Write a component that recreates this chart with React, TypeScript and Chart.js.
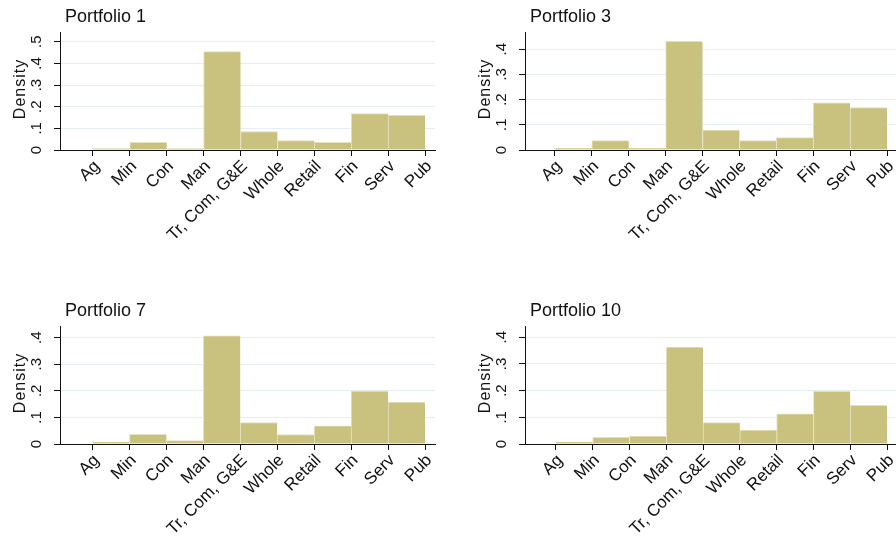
import React, { useEffect, useRef } from "react";
import { Chart, registerables } from "chart.js";

Chart.register(...registerables);

// ---- data ----
const categories = ["Ag", "Min", "Con", "Man", "Tr, Com, G&E", "Whole", "Retail", "Fin", "Serv", "Pub"];
const tickPositions = [1, 2, 3, 4, 5, 6, 7, 8, 9, 10];
const binCenters = [1.5, 2.5, 3.5, 4.5, 5.5, 6.5, 7.5, 8.5, 9.5];

const portfolio1 = [0.007, 0.035, 0.006, 0.454, 0.085, 0.043, 0.035, 0.168, 0.16];
const portfolio3 = [0.007, 0.037, 0.007, 0.431, 0.079, 0.037, 0.049, 0.187, 0.168];
const portfolio7 = [0.008, 0.036, 0.013, 0.407, 0.081, 0.035, 0.068, 0.199, 0.158];
const portfolio10 = [0.008, 0.025, 0.03, 0.363, 0.08, 0.052, 0.113, 0.197, 0.145];

const yTicksTo5 = [0, 0.1, 0.2, 0.3, 0.4, 0.5];
const yTicksTo4 = [0, 0.1, 0.2, 0.3, 0.4];
const yTickLabels = ["0", ".1", ".2", ".3", ".4", ".5"];

const BAR = "rgb(201,194,127)";
const BAR_EDGE = "rgb(228,225,190)";
const GRID = "#e4edf0";
const AXIS = "#111111";
const TEXT = "#111111";
const FONT = '"Liberation Sans", Arial, sans-serif';

type PanelCfg = {
  title: string;
  values: number[];
  yMax: number;
  yTicks: number[];
  xMin: number;
  left: number;
  top: number;
  rightPad: number;
};

const panels: PanelCfg[] = [
  { title: "Portfolio 1", values: portfolio1, yMax: 0.545, yTicks: yTicksTo5, xMin: 0.106, left: 0, top: 0, rightPad: 13 },
  { title: "Portfolio 3", values: portfolio3, yMax: 0.468, yTicks: yTicksTo4, xMin: 0.187, left: 465, top: 0, rightPad: 16 },
  { title: "Portfolio 7", values: portfolio7, yMax: 0.444, yTicks: yTicksTo4, xMin: 0.12, left: 0, top: 294, rightPad: 13 },
  { title: "Portfolio 10", values: portfolio10, yMax: 0.442, yTicks: yTicksTo4, xMin: 0.16, left: 465, top: 294, rightPad: 16 },
];

const CW = 448;
const CH = 248;

function textPlugin(cfg: PanelCfg) {
  return {
    id: "stataText",
    afterDraw(chart: any) {
      const ctx = chart.ctx as CanvasRenderingContext2D;
      const { left, top, bottom } = chart.chartArea;
      const xs = chart.scales.x;
      const ys = chart.scales.y;
      ctx.save();
      ctx.fillStyle = TEXT;

      // title
      ctx.font = `18px ${FONT}`;
      ctx.textAlign = "left";
      ctx.textBaseline = "alphabetic";
      ctx.fillText(cfg.title, left + 5, 21.5);

      // y tick labels (rotated)
      ctx.font = `15px ${FONT}`;
      cfg.yTicks.forEach((v, i) => {
        const y = ys.getPixelForValue(v);
        ctx.save();
        ctx.translate(left - 19, y);
        ctx.rotate(-Math.PI / 2);
        ctx.textAlign = "center";
        ctx.textBaseline = "alphabetic";
        ctx.fillText(yTickLabels[i], 0, 0);
        ctx.restore();
      });

      // y title
      ctx.save();
      ctx.font = `16px ${FONT}`;
      (ctx as any).letterSpacing = "1px";
      ctx.translate(left - 35, (top + bottom) / 2 - 2);
      ctx.rotate(-Math.PI / 2);
      ctx.textAlign = "center";
      ctx.textBaseline = "alphabetic";
      ctx.fillText("Density", 0, 0);
      ctx.restore();

      // x tick labels (45 degrees)
      ctx.font = `17px ${FONT}`;
      tickPositions.forEach((v, i) => {
        const x = xs.getPixelForValue(v);
        ctx.save();
        ctx.translate(x + 7.5, bottom + 17);
        ctx.rotate(-Math.PI / 4);
        ctx.textAlign = "right";
        ctx.textBaseline = "alphabetic";
        ctx.fillText(categories[i], 0, 0);
        ctx.restore();
      });
      ctx.restore();
    },
  };
}

function Panel({ cfg }: { cfg: PanelCfg }) {
  const ref = useRef<HTMLCanvasElement>(null);
  useEffect(() => {
    if (!ref.current) return;
    const chart = new Chart(ref.current, {
      type: "bar",
      data: {
        datasets: [
          {
            data: binCenters.map((x, i) => ({ x, y: cfg.values[i] })),
            backgroundColor: BAR,
            borderColor: BAR_EDGE,
            borderWidth: { top: 1, left: 1, right: 0, bottom: 0 },
            borderSkipped: false,
            barPercentage: 1,
            categoryPercentage: 1,
          } as any,
        ],
      },
      options: {
        animation: false,
        responsive: false,
        maintainAspectRatio: false,
        devicePixelRatio: 1,
        events: [],
        layout: { padding: { left: 50, right: cfg.rightPad, top: 32, bottom: 0 } },
        plugins: { legend: { display: false }, tooltip: { enabled: false }, title: { display: false } },
        scales: {
          x: {
            type: "linear",
            min: cfg.xMin,
            max: 10.27,
            offset: false,
            afterBuildTicks: (s: any) => {
              s.ticks = tickPositions.map((v) => ({ value: v }));
            },
            afterFit: (s: any) => {
              s.height = CH - 150;
              s.paddingLeft = 0;
              s.paddingRight = 0;
              s.paddingTop = 0;
              s.paddingBottom = 0;
            },
            ticks: { display: false },
            grid: {
              display: true,
              offset: false,
              drawOnChartArea: false,
              drawTicks: true,
              tickLength: 6,
              tickColor: AXIS,
              tickWidth: 1,
            },
            border: { display: true, color: AXIS, width: 1, z: 1 },
          },
          y: {
            type: "linear",
            min: 0,
            max: cfg.yMax,
            afterBuildTicks: (s: any) => {
              s.ticks = cfg.yTicks.map((v) => ({ value: v }));
            },
            afterFit: (s: any) => {
              s.width = 10;
              s.paddingTop = 0;
              s.paddingBottom = 0;
            },
            ticks: { display: false },
            grid: { display: true, color: GRID, lineWidth: 1, drawTicks: true, tickLength: 6, tickColor: AXIS, tickWidth: 1 },
            border: { display: true, color: AXIS, width: 1, z: 1 },
          },
        },
      } as any,
      plugins: [textPlugin(cfg)],
    });
    return () => chart.destroy();
  }, [cfg]);
  return (
    <canvas
      ref={ref}
      width={CW}
      height={CH}
      style={{ position: "absolute", left: cfg.left, top: cfg.top, width: CW, height: CH }}
    />
  );
}

export default function App() {
  return (
    <div
      style={{
        position: "fixed",
        left: 0,
        top: 0,
        width: 896,
        height: 542,
        overflow: "hidden",
        background: "#ffffff",
      }}
    >
      {panels.map((p) => (
        <Panel key={p.title} cfg={p} />
      ))}
    </div>
  );
}
